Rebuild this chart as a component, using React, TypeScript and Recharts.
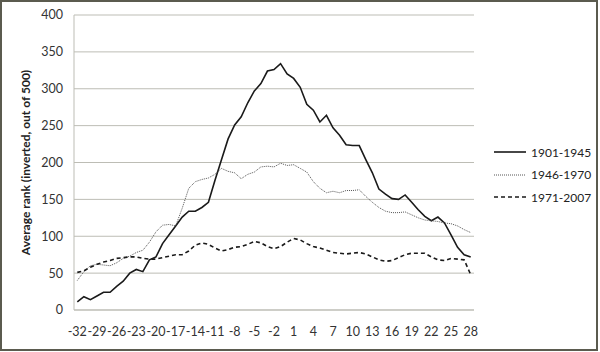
import React from "react";
import { LineChart, Line, XAxis, YAxis, CartesianGrid, Legend } from "recharts";

const offsets = [
  -32, -31, -30, -29, -28, -27, -26, -25, -24, -23, -22, -21, -20, -19, -18, -17,
  -16, -15, -14, -13, -12, -11, -10, -9, -8, -7, -6, -5, -4, -3, -2, -1,
  0, 1, 2, 3, 4, 5, 6, 7, 8, 9, 10, 11, 12, 13, 14, 15, 16, 17, 18, 19, 20,
  21, 22, 23, 24, 25, 26, 27, 28,
];

const s1901 = [
  11, 18, 14, 19, 24, 24, 32, 39, 50, 55, 52, 68, 72, 90, 102, 114,
  126, 134, 134, 139, 146, 176, 204, 232, 251, 262, 281, 297, 307, 324, 326, 334,
  320, 314, 302, 279, 271, 255, 264, 247, 237, 224, 223, 223, 204, 186, 164, 157, 151, 150, 156, 146, 136,
  127, 121, 126, 118, 102, 85, 75, 72,
];

const s1946 = [
  40, 52, 60, 62, 61, 60, 64, 70, 73, 78, 81, 92, 106, 115, 116, 114,
  138, 165, 174, 177, 179, 184, 192, 188, 186, 178, 184, 187, 194, 195, 194, 199,
  196, 197, 192, 187, 174, 165, 159, 161, 159, 162, 162, 163, 154, 146, 139, 134, 132, 132, 133, 129, 125,
  122, 121, 120, 118, 117, 114, 109, 105,
];

const s1971 = [
  51, 53, 58, 62, 65, 67, 70, 71, 72, 72, 70, 69, 69, 71, 73, 75,
  75, 80, 88, 91, 89, 84, 80, 82, 85, 86, 89, 93, 91, 86, 83, 86,
  92, 97, 95, 90, 86, 84, 81, 78, 77, 76, 77, 78, 76, 72, 68, 66, 67, 71, 75, 77, 77,
  77, 72, 68, 67, 70, 69, 68, 48,
];

const yTicks = [0, 50, 100, 150, 200, 250, 300, 350, 400];

const seriesNames = ["1901-1945", "1946-1970", "1971-2007"];

const data = offsets.map((x, i) => ({
  x,
  a: s1901[i],
  b: s1946[i],
  c: s1971[i],
}));

const FONT = "Lato, 'Liberation Sans', sans-serif";

const legendItems = [
  { name: seriesNames[0], dash: undefined as string | undefined, color: "#1a1a1a", w: 1.6 },
  { name: seriesNames[1], dash: "1 1", color: "#555", w: 1 },
  { name: seriesNames[2], dash: "4 3", color: "#1a1a1a", w: 1.6 },
];

const LegendContent = () => (
  <div style={{ fontFamily: FONT, fontSize: 12, color: "#222", textAlign: "left", whiteSpace: "nowrap" }}>
    {legendItems.map((it) => (
      <div key={it.name} style={{ display: "flex", alignItems: "center", height: 22.5 }}>
        <svg width={34} height={10} style={{ marginRight: 4, flex: "none" }}>
          <line x1={1} y1={5} x2={33} y2={5} stroke={it.color} strokeWidth={it.w} strokeDasharray={it.dash} />
        </svg>
        <span>{it.name}</span>
      </div>
    ))}
  </div>
);

export default function App() {
  return (
    <div style={{ position: "absolute", left: 0, top: 0, width: 600, height: 352, background: "#fff" }}>
      <LineChart
        width={600}
        height={352}
        data={data}
        margin={{ top: 15, right: 126, bottom: 12, left: 0 }}
      >
        <CartesianGrid horizontal vertical={false} stroke="#bdbdb5" strokeWidth={1} />
        <XAxis
          dataKey="x"
          height={30}
          interval={2}
          padding={{ left: 3.3, right: 3.3 }}
          axisLine={{ stroke: "#bdbdb5" }}
          tickLine={false}
          tickSize={6}
          tickMargin={11}
          tick={{ fontFamily: FONT, fontSize: 12.5, fill: "#333" }}
        />
        <YAxis
          width={74}
          domain={[0, 400]}
          ticks={yTicks}
          axisLine={{ stroke: "#bdbdb5" }}
          tickLine={false}
          tickSize={6}
          tickMargin={5}
          tick={{ fontFamily: FONT, fontSize: 12.5, fill: "#333" }}
          label={{
            value: "Average rank (inverted, out of 500)",
            angle: -90,
            position: "insideLeft",
            dx: 21,
            dy: 0,
            style: { fontFamily: FONT, fontSize: 12, fontWeight: "bold", fill: "#222", textAnchor: "middle" },
          }}
        />
        <Legend
          layout="vertical"
          verticalAlign="middle"
          align="center"
          content={<LegendContent />}
          wrapperStyle={{ position: "absolute", left: 493, top: 141, width: 104 }}
        />
        <Line
          type="linear"
          dataKey="a"
          name={seriesNames[0]}
          stroke="#1a1a1a"
          strokeWidth={1.6}
          dot={false}
          isAnimationActive={false}
        />
        <Line
          type="linear"
          dataKey="b"
          name={seriesNames[1]}
          stroke="#555"
          strokeWidth={1}
          strokeDasharray="1 1"
          dot={false}
          isAnimationActive={false}
        />
        <Line
          type="linear"
          dataKey="c"
          name={seriesNames[2]}
          stroke="#1a1a1a"
          strokeWidth={1.6}
          strokeDasharray="4 3"
          dot={false}
          isAnimationActive={false}
        />
      </LineChart>
      <div
        style={{
          position: "absolute",
          left: 0,
          top: 0,
          width: 598,
          height: 351,
          border: "2px solid #5b5b4f",
          boxSizing: "border-box",
          pointerEvents: "none",
        }}
      />
    </div>
  );
}
